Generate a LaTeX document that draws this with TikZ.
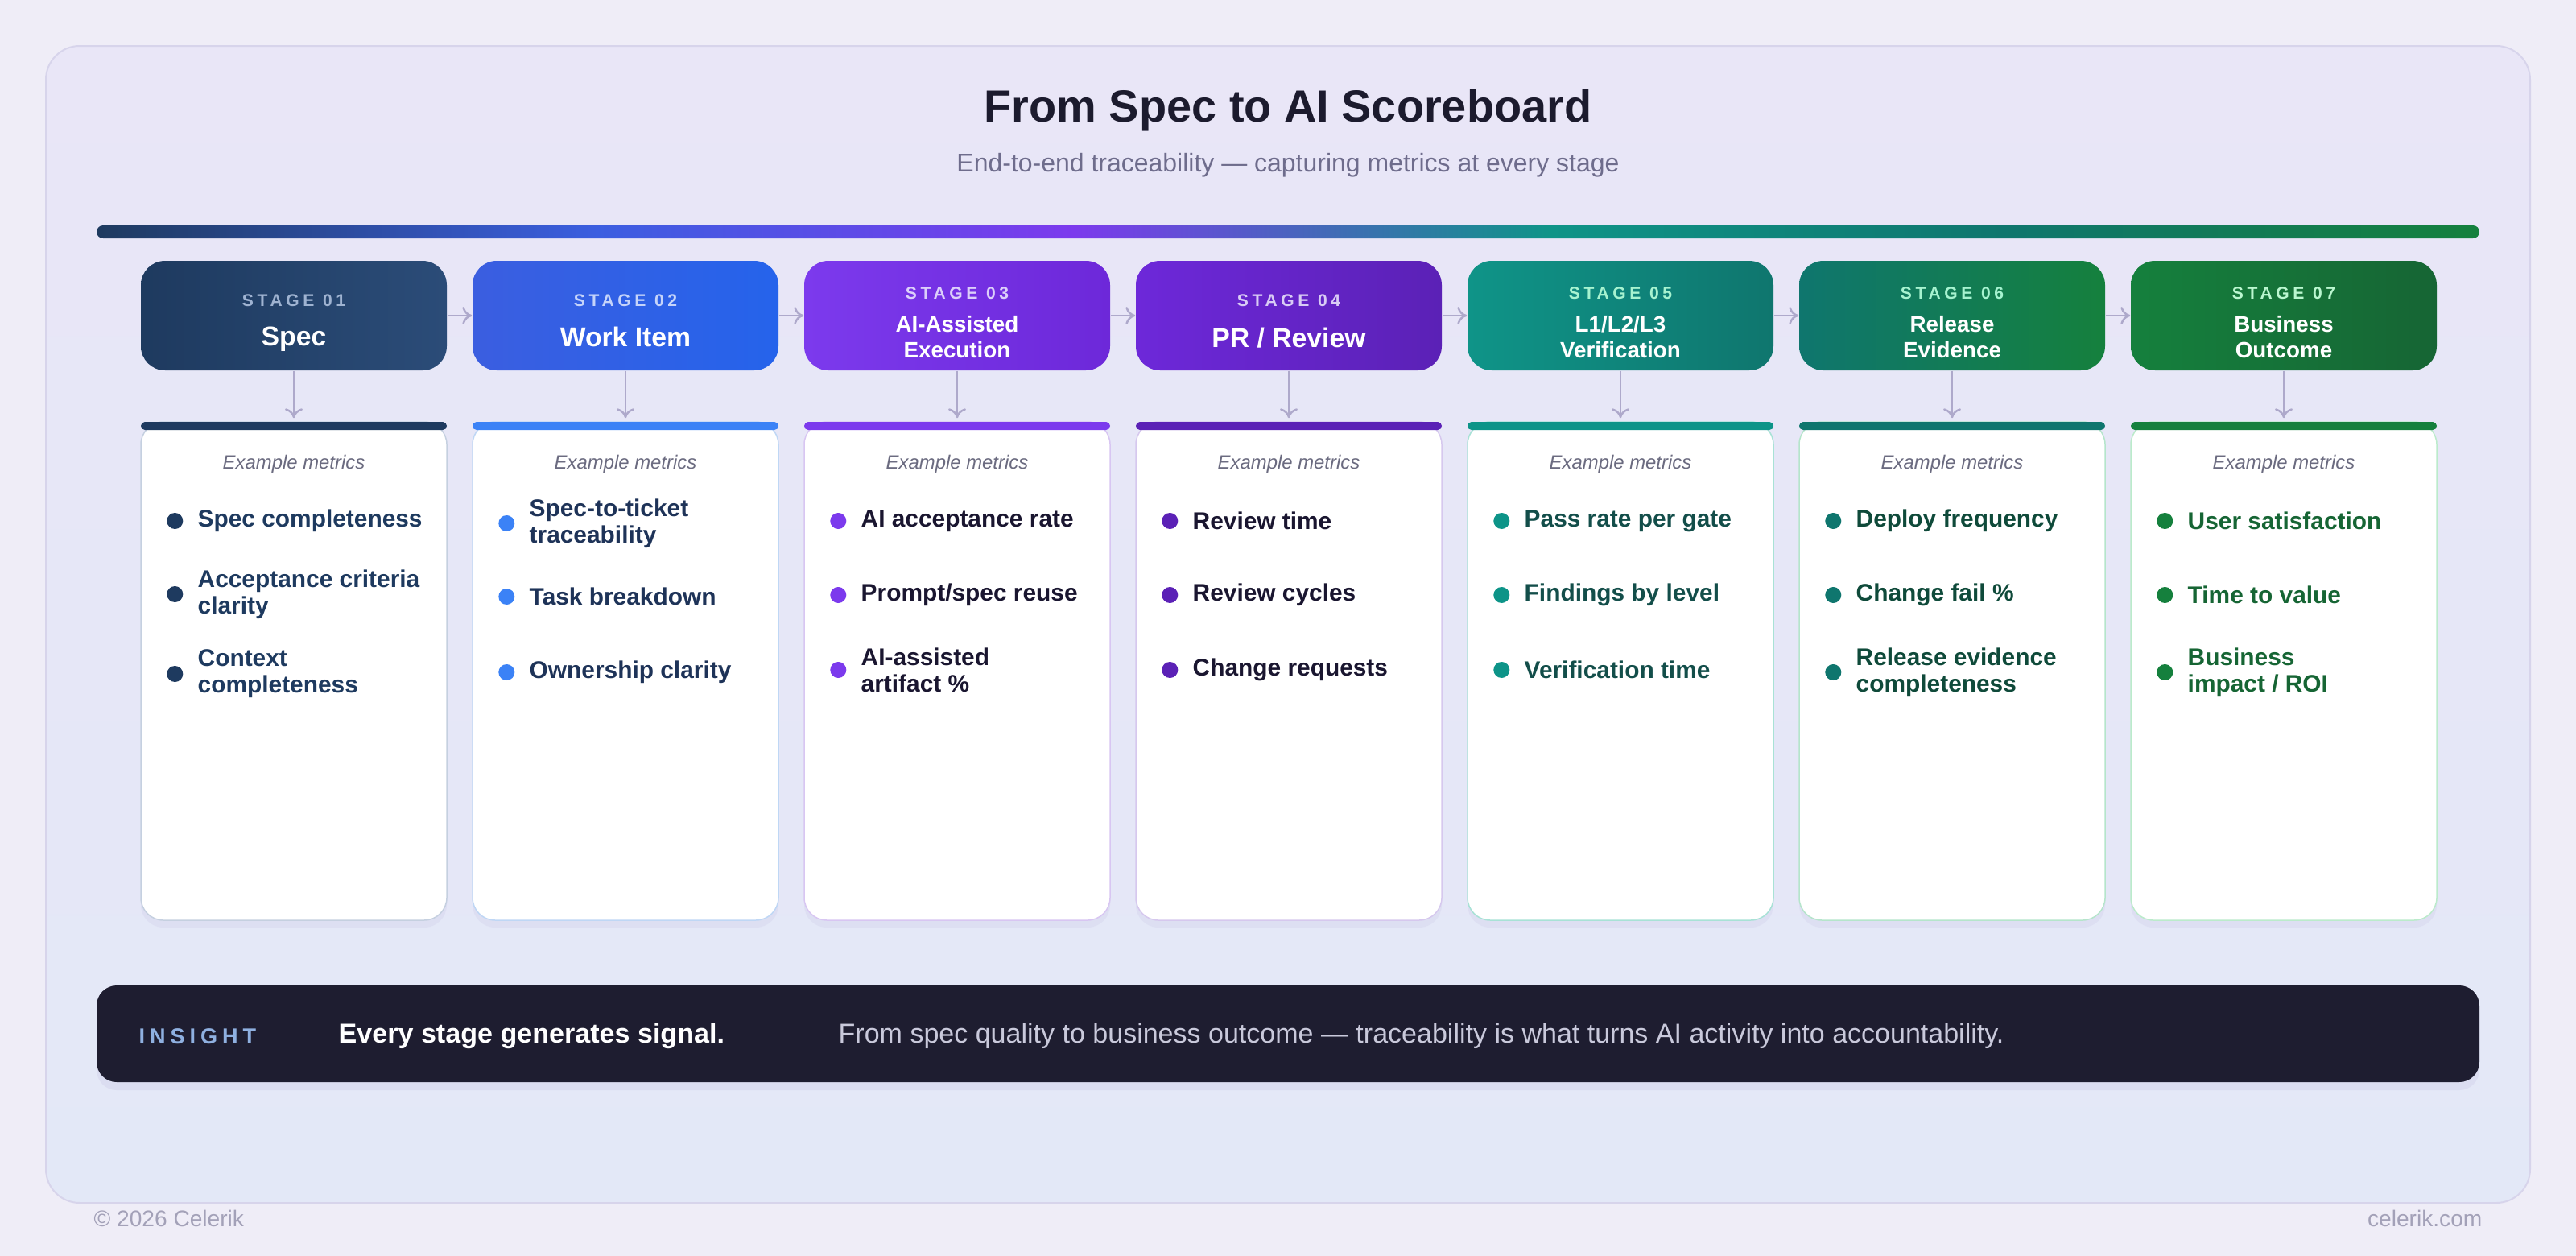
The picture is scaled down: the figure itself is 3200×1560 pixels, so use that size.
\documentclass[tikz,border=0pt]{standalone}
\usepackage{fontspec}
\setmainfont{Liberation Sans}
\newfontfamily\trackfont{Liberation Sans}[LetterSpace=22]
\usetikzlibrary{positioning,arrows.meta}

\definecolor{pagebg}{HTML}{EFEDF7}
\definecolor{frametop}{HTML}{E9E6F7}
\definecolor{framebot}{HTML}{E3E8F7}
\definecolor{frameline}{HTML}{D7D4EB}
\definecolor{titlecol}{HTML}{1C1B2E}
\definecolor{subcol}{HTML}{6E6C8C}
\definecolor{flowcol}{HTML}{AEA9CB}
\definecolor{exmcol}{HTML}{6B6B80}
\definecolor{shadecol}{HTML}{C9C5E6}
\definecolor{insbg}{HTML}{1E1D30}
\definecolor{instag}{HTML}{8FB0E0}
\definecolor{instext}{HTML}{C9C9DB}
\definecolor{footcol}{HTML}{A3A1B8}

\definecolor{s1a}{HTML}{1E3A5F}\definecolor{s1b}{HTML}{2B4C78}\definecolor{s1tag}{HTML}{9FB3D1}
\definecolor{s1dot}{HTML}{1E3A5F}\definecolor{s1txt}{HTML}{1E3A5F}\definecolor{s1line}{HTML}{C5D0E0}
\definecolor{s2a}{HTML}{3B5EE0}\definecolor{s2b}{HTML}{2563EB}\definecolor{s2tag}{HTML}{C5D4FA}
\definecolor{s2dot}{HTML}{3B82F6}\definecolor{s2txt}{HTML}{1E3358}\definecolor{s2line}{HTML}{BFD7F5}
\definecolor{s3a}{HTML}{7C3AED}\definecolor{s3b}{HTML}{6D28D9}\definecolor{s3tag}{HTML}{DCCFFA}
\definecolor{s3dot}{HTML}{7C3AED}\definecolor{s3txt}{HTML}{1A1630}\definecolor{s3line}{HTML}{D8C6F2}
\definecolor{s4a}{HTML}{6D28D9}\definecolor{s4b}{HTML}{5B21B6}\definecolor{s4tag}{HTML}{D9CCF5}
\definecolor{s4dot}{HTML}{5B21B6}\definecolor{s4txt}{HTML}{1A1630}\definecolor{s4line}{HTML}{D6C8EE}
\definecolor{s5a}{HTML}{0F9488}\definecolor{s5b}{HTML}{0F766E}\definecolor{s5tag}{HTML}{A7F3D0}
\definecolor{s5dot}{HTML}{0D9488}\definecolor{s5txt}{HTML}{134E4A}\definecolor{s5line}{HTML}{A8E2D6}
\definecolor{s6a}{HTML}{0F766E}\definecolor{s6b}{HTML}{15803D}\definecolor{s6tag}{HTML}{A7F3D0}
\definecolor{s6dot}{HTML}{0F766E}\definecolor{s6txt}{HTML}{0F4A3A}\definecolor{s6line}{HTML}{B5E5CB}
\definecolor{s7a}{HTML}{15803D}\definecolor{s7b}{HTML}{166534}\definecolor{s7tag}{HTML}{BBF7D0}
\definecolor{s7dot}{HTML}{15803D}\definecolor{s7txt}{HTML}{166534}\definecolor{s7line}{HTML}{BBEBCB}

\pgfdeclarehorizontalshading{scorebar}{100bp}{color(0bp)=(s1a); color(25bp)=(s1a); color(35.5bp)=(s2a); color(45.5bp)=(s3a); color(55.5bp)=(s5a); color(65bp)=(s5b); color(75bp)=(s7a); color(100bp)=(s7a)}

\begin{document}
\begin{tikzpicture}[x=0.1mm, y=-0.1mm,
	frame/.style={draw=frameline, line width=0.2mm, top color=frametop, bottom color=framebot, rounded corners=4.2mm},
	stagebox/.style={rounded corners=3mm, minimum width=38mm, minimum height=13.6mm, inner sep=0pt},
	stagetag/.style={inner sep=0pt, font=\trackfont\bfseries\fontsize{6}{7}\selectfont},
	stagename/.style={inner sep=0pt, text=white, font=\bfseries\fontsize{9.6}{11}\selectfont},
	stagenametwo/.style={inner sep=0pt, text=white, align=center, font=\bfseries\fontsize{7.9}{9.1}\selectfont},
	card/.style={draw, line width=0.15mm, fill=white, rounded corners=2.8mm, minimum width=38mm, minimum height=61.9mm, inner sep=0pt,
		preaction={fill=shadecol, opacity=0.25, transform canvas={yshift=-0.9mm}}},
	cardbar/.style={rounded corners=0.5mm, minimum width=38mm, minimum height=1mm, inner sep=0pt},
	exm/.style={inner sep=0pt, text=exmcol, font=\itshape\fontsize{6.8}{8}\selectfont},
	metric/.style={anchor=west, inner sep=0pt, align=left, font=\bfseries\fontsize{8.5}{9.3}\selectfont},
	dot/.style={circle, inner sep=0pt, minimum size=2mm},
	flow/.style={draw=flowcol, line width=0.25mm, -{To[length=1.2mm,width=2.2mm]}}
]

\fill[pagebg] (0,0) rectangle (3200,1560);
\useasboundingbox (0,0) rectangle (3200,1560);
\draw[frame] (57,57) rectangle (3143,1494);

\node[inner sep=0pt, text=titlecol, font=\bfseries\fontsize{15.9}{19}\selectfont] (title) at (1600,137) {From Spec to AI Scoreboard};
\node[inner sep=0pt, text=subcol, font=\fontsize{9.1}{11}\selectfont] (subtitle) at (1600,205) {End-to-end traceability — capturing metrics at every stage};
\node[shading=scorebar, rounded corners=0.8mm, minimum width=296mm, minimum height=1.6mm, inner sep=0pt] (bar) at (1600,288) {};

% stage headers
\node[stagebox, left color=s1a, right color=s1b] (s1) at (365,392) {};
\node[stagetag, text=s1tag] (s1tag) at (365,373) {STAGE 01};
\node[stagename] (s1name) at (365,421) {Spec};
\node[stagebox, left color=s2a, right color=s2b] (s2) at (777,392) {};
\node[stagetag, text=s2tag] (s2tag) at (777,373) {STAGE 02};
\node[stagename] (s2name) at (777,418) {Work Item};
\node[stagebox, left color=s3a, right color=s3b] (s3) at (1189,392) {};
\node[stagetag, text=s3tag] (s3tag) at (1189,364.5) {STAGE 03};
\node[stagenametwo] (s3name) at (1189,419) {AI-Assisted\\Execution};
\node[stagebox, left color=s4a, right color=s4b] (s4) at (1601,392) {};
\node[stagetag, text=s4tag] (s4tag) at (1601,373) {STAGE 04};
\node[stagename] (s4name) at (1601,420) {PR / Review};
\node[stagebox, left color=s5a, right color=s5b] (s5) at (2013,392) {};
\node[stagetag, text=s5tag] (s5tag) at (2013,364.5) {STAGE 05};
\node[stagenametwo] (s5name) at (2013,419) {L1/L2/L3\\Verification};
\node[stagebox, left color=s6a, right color=s6b] (s6) at (2425,392) {};
\node[stagetag, text=s6tag] (s6tag) at (2425,364.5) {STAGE 06};
\node[stagenametwo] (s6name) at (2425,419) {Release\\Evidence};
\node[stagebox, left color=s7a, right color=s7b] (s7) at (2837,392) {};
\node[stagetag, text=s7tag] (s7tag) at (2837,364.5) {STAGE 07};
\node[stagenametwo] (s7name) at (2837,419) {Business\\Outcome};

\draw[flow] (s1) -- (s2);
\draw[flow] (s2) -- (s3);
\draw[flow] (s3) -- (s4);
\draw[flow] (s4) -- (s5);
\draw[flow] (s5) -- (s6);
\draw[flow] (s6) -- (s7);

% metric cards
\node[card, draw=s1line] (m1) at (365,833.5) {};
\node[card, draw=s2line] (m2) at (777,833.5) {};
\node[card, draw=s3line] (m3) at (1189,833.5) {};
\node[card, draw=s4line] (m4) at (1601,833.5) {};
\node[card, draw=s5line] (m5) at (2013,833.5) {};
\node[card, draw=s6line] (m6) at (2425,833.5) {};
\node[card, draw=s7line] (m7) at (2837,833.5) {};

\node[cardbar, fill=s1a] (m1bar) at (365,529) {};
\node[cardbar, fill=s2dot] (m2bar) at (777,529) {};
\node[cardbar, fill=s3a] (m3bar) at (1189,529) {};
\node[cardbar, fill=s4b] (m4bar) at (1601,529) {};
\node[cardbar, fill=s5dot] (m5bar) at (2013,529) {};
\node[cardbar, fill=s6a] (m6bar) at (2425,529) {};
\node[cardbar, fill=s7a] (m7bar) at (2837,529) {};

\draw[flow, shorten >=0.4mm] (s1) -- (m1);
\draw[flow, shorten >=0.4mm] (s2) -- (m2);
\draw[flow, shorten >=0.4mm] (s3) -- (m3);
\draw[flow, shorten >=0.4mm] (s4) -- (m4);
\draw[flow, shorten >=0.4mm] (s5) -- (m5);
\draw[flow, shorten >=0.4mm] (s6) -- (m6);
\draw[flow, shorten >=0.4mm] (s7) -- (m7);

\node[exm] (m1ex) at (365,576) {Example metrics};
\node[exm] (m2ex) at (777,576) {Example metrics};
\node[exm] (m3ex) at (1189,576) {Example metrics};
\node[exm] (m4ex) at (1601,576) {Example metrics};
\node[exm] (m5ex) at (2013,576) {Example metrics};
\node[exm] (m6ex) at (2425,576) {Example metrics};
\node[exm] (m7ex) at (2837,576) {Example metrics};

\node[metric, text=s1txt] (m1a) at (245,647) {Spec completeness};
\node[dot, fill=s1dot, left=1.7mm of m1a] (d1a) {};
\node[metric, text=s1txt] (m1b) at (245,738) {Acceptance criteria\\clarity};
\node[dot, fill=s1dot, left=1.7mm of m1b] (d1b) {};
\node[metric, text=s1txt] (m1c) at (245,837) {Context\\completeness};
\node[dot, fill=s1dot, left=1.7mm of m1c] (d1c) {};

\node[metric, text=s2txt] (m2a) at (657,650) {Spec-to-ticket\\traceability};
\node[dot, fill=s2dot, left=1.7mm of m2a] (d2a) {};
\node[metric, text=s2txt] (m2b) at (657,741) {Task breakdown};
\node[dot, fill=s2dot, left=1.7mm of m2b] (d2b) {};
\node[metric, text=s2txt] (m2c) at (657,835) {Ownership clarity};
\node[dot, fill=s2dot, left=1.7mm of m2c] (d2c) {};

\node[metric, text=s3txt] (m3a) at (1069,647) {AI acceptance rate};
\node[dot, fill=s3dot, left=1.7mm of m3a] (d3a) {};
\node[metric, text=s3txt] (m3b) at (1069,739) {Prompt/spec reuse};
\node[dot, fill=s3dot, left=1.7mm of m3b] (d3b) {};
\node[metric, text=s3txt] (m3c) at (1069,832) {AI-assisted\\artifact \%};
\node[dot, fill=s3dot, left=1.7mm of m3c] (d3c) {};

\node[metric, text=s4txt] (m4a) at (1481,647) {Review time};
\node[dot, fill=s4dot, left=1.7mm of m4a] (d4a) {};
\node[metric, text=s4txt] (m4b) at (1481,739) {Review cycles};
\node[dot, fill=s4dot, left=1.7mm of m4b] (d4b) {};
\node[metric, text=s4txt] (m4c) at (1481,832) {Change requests};
\node[dot, fill=s4dot, left=1.7mm of m4c] (d4c) {};

\node[metric, text=s5txt] (m5a) at (1893,647) {Pass rate per gate};
\node[dot, fill=s5dot, left=1.7mm of m5a] (d5a) {};
\node[metric, text=s5txt] (m5b) at (1893,739) {Findings by level};
\node[dot, fill=s5dot, left=1.7mm of m5b] (d5b) {};
\node[metric, text=s5txt] (m5c) at (1893,832) {Verification time};
\node[dot, fill=s5dot, left=1.7mm of m5c] (d5c) {};

\node[metric, text=s6txt] (m6a) at (2305,647) {Deploy frequency};
\node[dot, fill=s6dot, left=1.7mm of m6a] (d6a) {};
\node[metric, text=s6txt] (m6b) at (2305,739) {Change fail \%};
\node[dot, fill=s6dot, left=1.7mm of m6b] (d6b) {};
\node[metric, text=s6txt] (m6c) at (2305,835) {Release evidence\\completeness};
\node[dot, fill=s6dot, left=1.7mm of m6c] (d6c) {};

\node[metric, text=s7txt] (m7a) at (2717,647) {User satisfaction};
\node[dot, fill=s7dot, left=1.7mm of m7a] (d7a) {};
\node[metric, text=s7txt] (m7b) at (2717,739) {Time to value};
\node[dot, fill=s7dot, left=1.7mm of m7b] (d7b) {};
\node[metric, text=s7txt] (m7c) at (2717,835) {Business\\impact / ROI};
\node[dot, fill=s7dot, left=1.7mm of m7c] (d7c) {};

% insight
\node[fill=insbg, rounded corners=2.5mm, minimum width=296mm, minimum height=12mm, inner sep=0pt,
	preaction={fill=shadecol, opacity=0.3, transform canvas={yshift=-1mm}}] (ins) at (1600,1284) {};
\node[anchor=west, inner sep=0pt, text=instag, font=\trackfont\bfseries\fontsize{7.7}{9}\selectfont] (insTag) at (172,1287) {INSIGHT};
\node[anchor=west, inner sep=0pt, text=white, font=\bfseries\fontsize{9.7}{11}\selectfont] (insHead) at (420,1287) {Every stage generates signal.};
\node[anchor=west, inner sep=0pt, text=instext, font=\fontsize{9.68}{11}\selectfont] (insText) at (1041,1287) {From spec quality to business outcome — traceability is what turns AI activity into accountability.};

\node[anchor=west, inner sep=0pt, text=footcol, font=\fontsize{8}{10}\selectfont] (copy) at (116,1513) {© 2026 Celerik};
\node[anchor=east, inner sep=0pt, text=footcol, font=\fontsize{8}{10}\selectfont] (site) at (3084,1513) {celerik.com};

\end{tikzpicture}
\end{document}
